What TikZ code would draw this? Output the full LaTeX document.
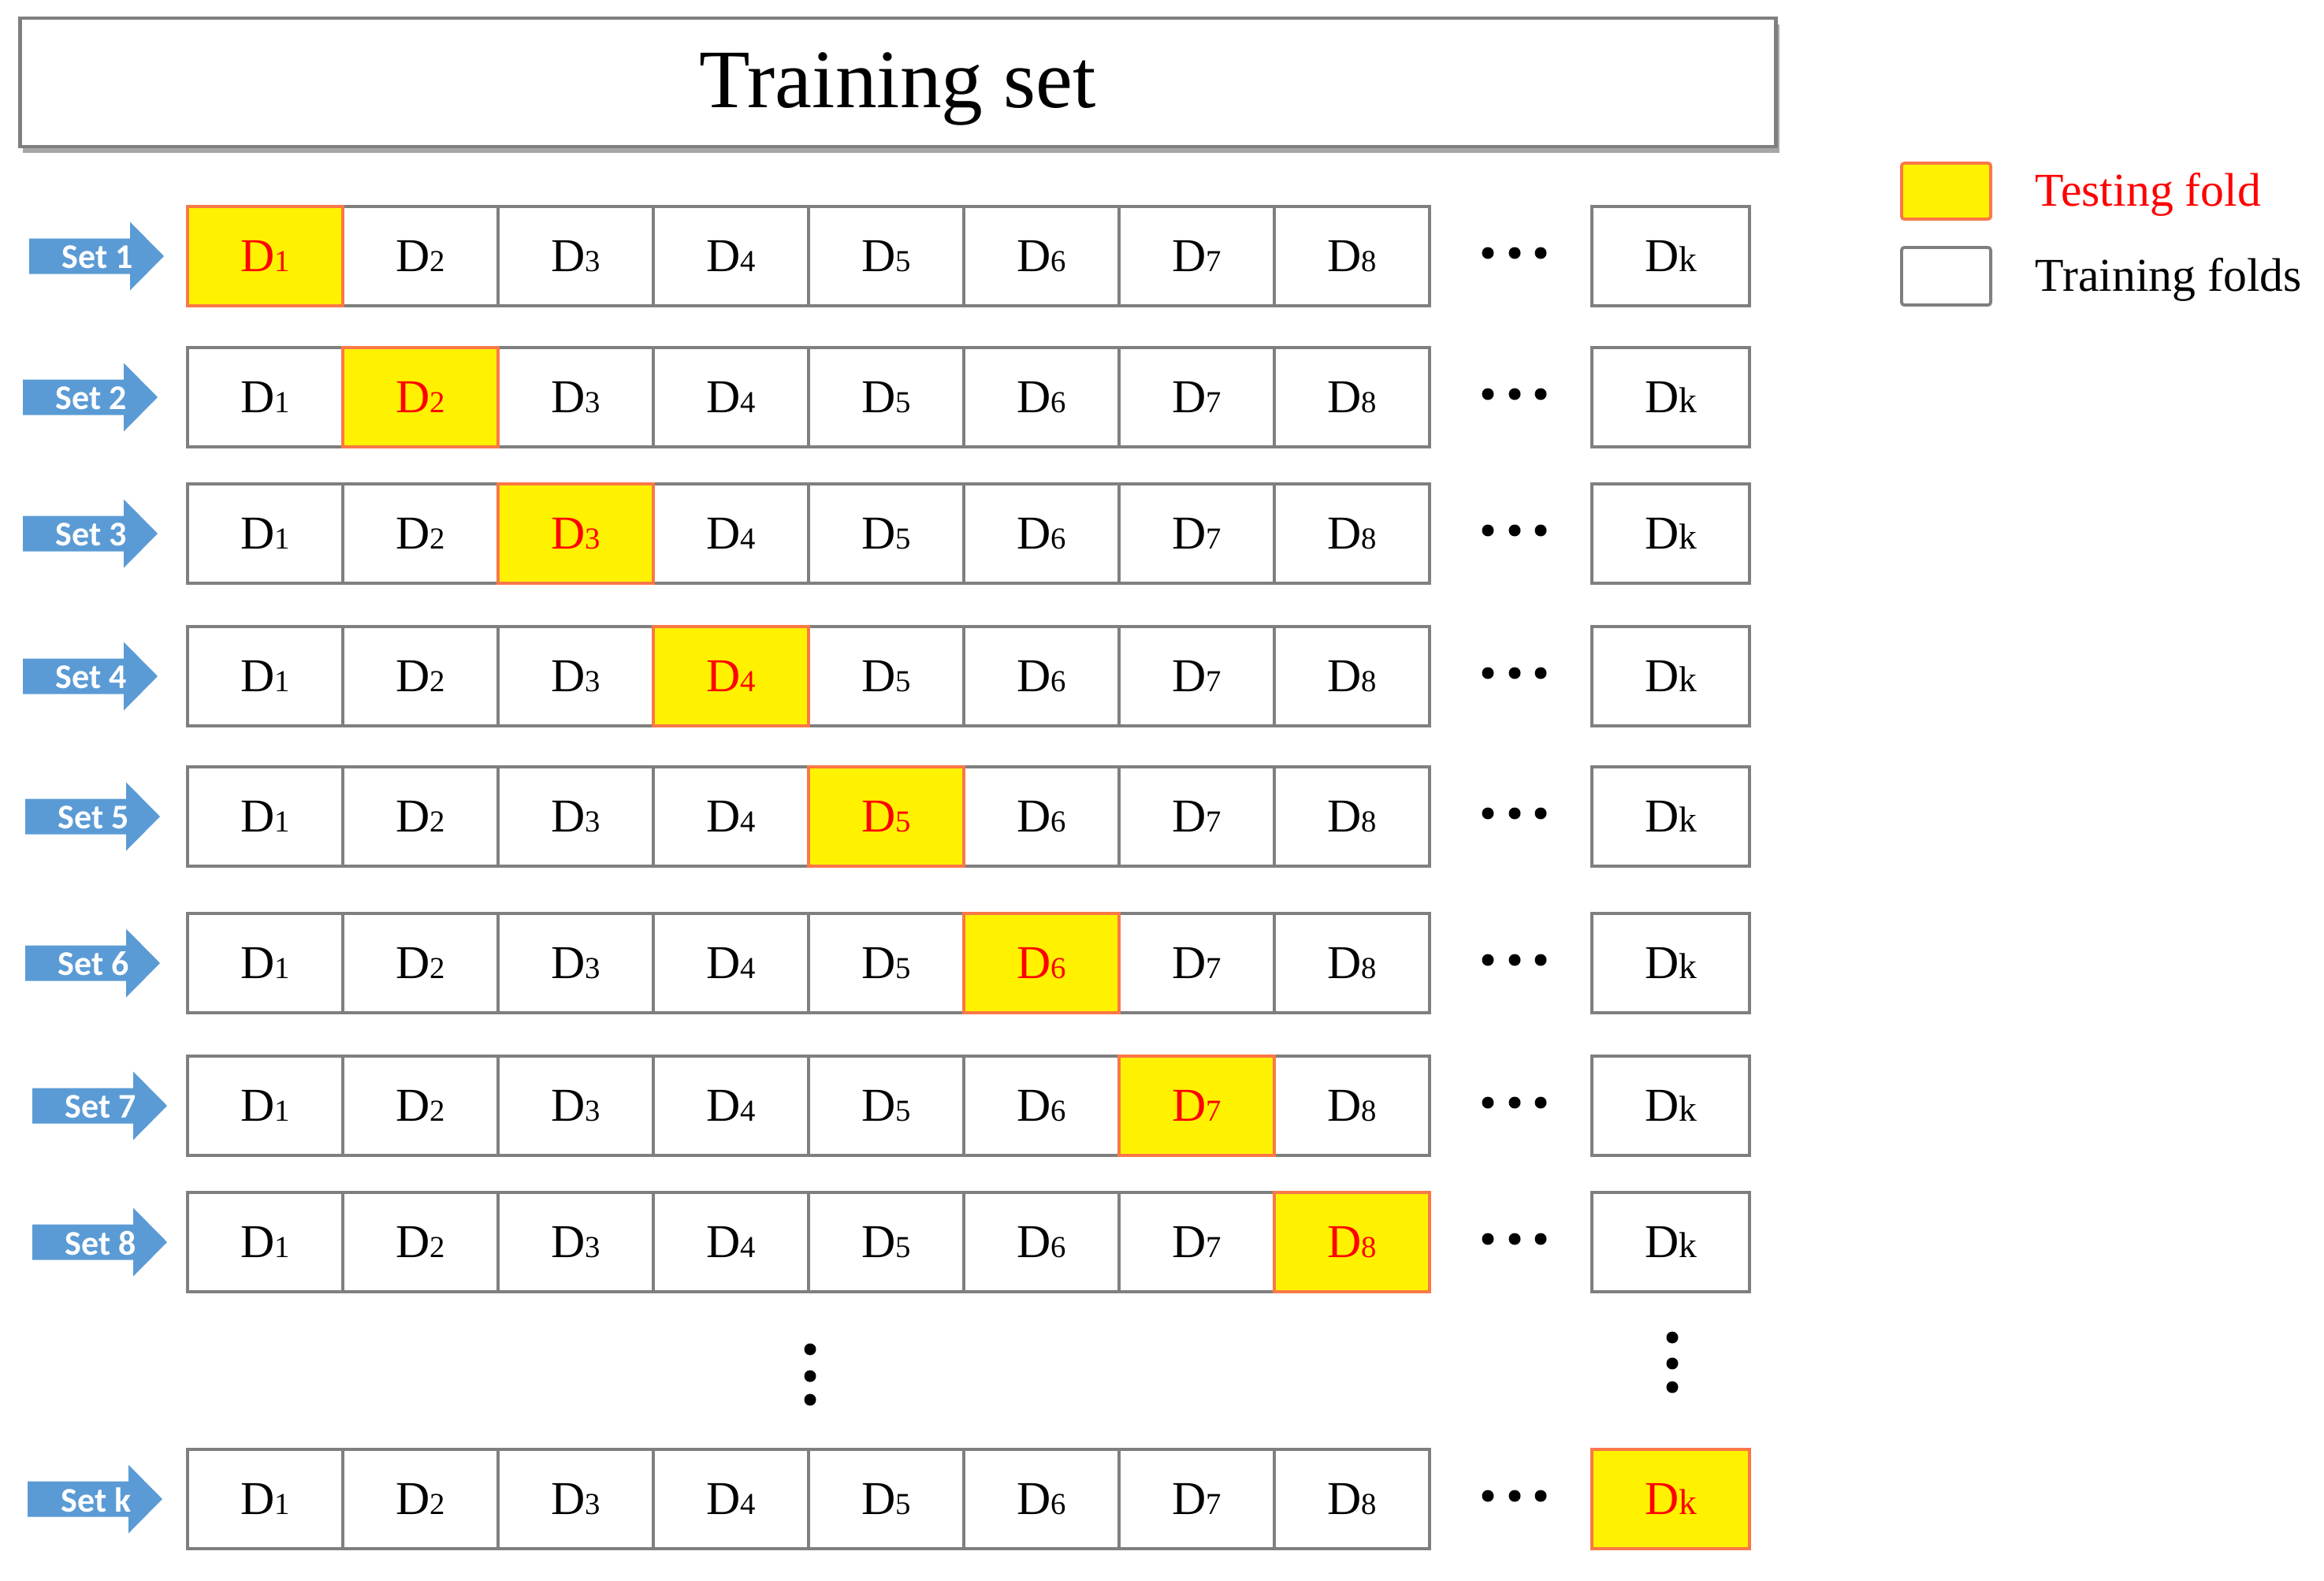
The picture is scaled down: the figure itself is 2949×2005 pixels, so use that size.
\documentclass[tikz,border=0pt]{standalone}
\usepackage{fontspec}
\setmainfont{Liberation Serif}
\newfontfamily\setfont{Carlito}
\usetikzlibrary{shadows}
\definecolor{arrowblue}{HTML}{5B9BD5}
\definecolor{cellgray}{HTML}{7F7F7F}
\definecolor{testborder}{RGB}{250,120,70}
\newcommand\Dsub[1]{D{\fontsize{11}{12}\selectfont #1}}
\begin{document}
\begin{tikzpicture}[x=0.01cm,y=-0.01cm,
  cellbox/.style={draw=cellgray, line width=1.1pt, fill=white, minimum width=1.97cm,
    minimum height=1.26cm, inner sep=0pt, font=\fontsize{17}{17}\selectfont},
  testbox/.style={cellbox, draw=testborder, fill=yellow, text=red},
  setlabel/.style={text=white, inner sep=0pt, font=\setfont\bfseries\fontsize{12.5}{13}\selectfont},
  titlebox/.style={draw=cellgray, line width=1.3pt, fill=white, minimum width=22.27cm,
    minimum height=1.63cm, inner sep=0pt,
    drop shadow={shadow xshift=0.04cm, shadow yshift=-0.08cm, fill=black, opacity=0.35}},
  titletext/.style={inner sep=0pt, font=\fontsize{30}{36}\selectfont},
  legtext/.style={anchor=west, inner sep=0pt, font=\fontsize{17}{20}\selectfont}
]
\useasboundingbox (0,0) rectangle (2949,2005);

% title
\node[titlebox] (title) at (1139.5,104.5) {};
\node[titletext] (titlelabel) at (1139.5,113) {Training set};

% legend
\node[testbox, minimum width=1.13cm, minimum height=0.71cm, rounded corners=1pt] (legtest) at (2469.5,242.5) {};
\node[cellbox, minimum width=1.13cm, minimum height=0.73cm, rounded corners=1pt] (legtrain) at (2469.5,350.5) {};
\node[legtext, text=red] (legtesttext) at (2582,247) {Testing fold};
\node[legtext] (legtraintext) at (2582,355) {Training folds};

% rows
\foreach \i/\lab/\y/\dx in {1/1/325/0, 2/2/504/-8, 3/3/677/-8, 4/4/858/-8, 5/5/1036/-5,
                            6/6/1222/-5, 7/7/1403/4, 8/8/1576/4, 9/k/1902/-2}{
  % arrow
  \fill[arrowblue] ({37+\dx},{\y-22.5}) -- ({165+\dx},{\y-22.5}) -- ({165+\dx},{\y-43.5})
     -- ({208+\dx},\y) -- ({165+\dx},{\y+43.5}) -- ({165+\dx},{\y+22.5})
     -- ({37+\dx},{\y+22.5}) -- cycle;
  \node[setlabel] (set-\i) at ({124+\dx},{\y+1}) {Set \lab};
  % training cells
  \foreach \c in {1,...,8}{
    \pgfmathsetmacro\cx{139.5+197*\c}
    \ifnum\c=\i\relax\else
      \node[cellbox] (cell-\i-\c) at (\cx,\y) {\Dsub{\c}};
    \fi
  }
  % testing cell
  \ifnum\i<9\relax
    \pgfmathsetmacro\tx{139.5+197*\i}
    \node[testbox] (cell-\i-\i) at (\tx,\y) {\Dsub{\i}};
    \node[cellbox, minimum width=2.0cm] (dk-\i) at (2120,\y) {D{\fontsize{13}{14}\selectfont k}};
  \else
    \node[testbox, minimum width=2.0cm] (dk-\i) at (2120,\y) {D{\fontsize{13}{14}\selectfont k}};
  \fi
  % horizontal dots
  \foreach \dxx in {1888,1922,1955}{
    \fill (\dxx,{\y-4}) circle (7.5);
  }
}

% vertical dots
\foreach \yy in {1712,1746,1776}{ \fill (1028,\yy) circle (7.5); }
\foreach \yy in {1697,1730,1760}{ \fill (2122,\yy) circle (7.5); }
\end{tikzpicture}
\end{document}
